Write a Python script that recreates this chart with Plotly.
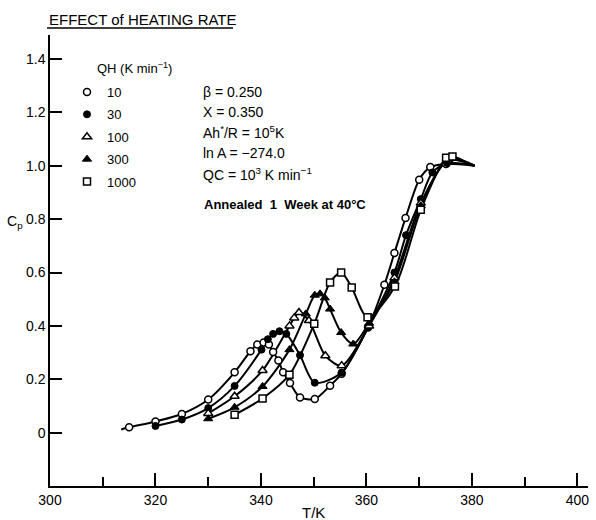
import plotly.graph_objects as go

# ---------------- data ----------------
T_10 = [315, 320, 325, 330, 335, 338, 339.3, 340.5, 341.5, 342.3, 343.3, 344.2, 345.5, 347.4,
        350.2, 353.1, 355.3, 360.3, 363.4, 365.3, 367.4, 370.0, 372.1, 375.1]
Cp_10 = [0.02, 0.042, 0.07, 0.124, 0.226, 0.305, 0.33, 0.338, 0.33, 0.302, 0.27, 0.226, 0.186, 0.132,
         0.126, 0.176, 0.221, 0.394, 0.554, 0.673, 0.804, 0.948, 0.995, 1.007]

T_30 = [320, 325, 330, 335, 340.1, 341.3, 342.3, 343.5, 344.8, 347.4, 350.2, 355.3, 360.3,
        365.3, 367.5, 370.3, 372.5, 375.3]
Cp_30 = [0.025, 0.049, 0.092, 0.175, 0.311, 0.35, 0.37, 0.38, 0.37, 0.29, 0.187, 0.225, 0.396,
         0.60, 0.74, 0.875, 0.975, 1.01]

T_100 = [330, 335, 340.3, 345.4, 346.3, 347.2, 349.1, 352.2, 355.3, 360.5, 365.3, 370.3, 375.5]
Cp_100 = [0.072, 0.136, 0.233, 0.40, 0.43, 0.45, 0.42, 0.288, 0.251, 0.40, 0.58, 0.86, 1.02]

T_300 = [330, 335, 340.3, 345.4, 348.5, 350.2, 351.2, 352.1, 353.1, 355.2, 357.5, 360.5,
         365.3, 370.3, 375.5]
Cp_300 = [0.052, 0.095, 0.173, 0.311, 0.445, 0.515, 0.52, 0.505, 0.463, 0.375, 0.332, 0.41,
          0.565, 0.85, 1.025]

T_1000 = [335, 340.3, 345.4, 350.1, 353.1, 355.2, 357.2, 360.2, 365.4, 370.3, 375.1, 376.3]
Cp_1000 = [0.067, 0.128, 0.217, 0.408, 0.563, 0.60, 0.544, 0.432, 0.548, 0.835, 1.03, 1.035]

# where the drawn curves begin / end beyond the plotted points
curve_start_10 = (313.5, 0.012)
curve_end = (380.5, 1.0)

qh_labels = ["10", "30", "100", "300", "1000"]
x_ticks = [300, 320, 340, 360, 380, 400]
x_minor = [310, 330, 350, 370, 390]
y_ticks = [0, 0.2, 0.4, 0.6, 0.8, 1.0, 1.2, 1.4]
y_ticktext = ["0", "0.2", "0.4", "0.6", "0.8", "1.0", "1.2", "1.4"]

params = ["β = 0.250", "X = 0.350", "Ah<sup>*</sup>/R = 10<sup>5</sup>K",
          "ln A = −274.0", "QC = 10<sup>3</sup> K min<sup>−1</sup>"]
anneal_text = "Annealed  1  Week at 40°C"

# ---------------- layout helpers ----------------
W, H = 596, 520
ML, MR, MT, MB = 50, 8, 35, 34
PW, PH = W - ML - MR, H - MT - MB


def pxx(x):
    return (x - ML) / PW


def pxy(y):
    return (H - MB - y) / PH


FONT = "Liberation Sans, Arial, sans-serif"

series = [
    (T_10, Cp_10, dict(symbol="circle", color="white", size=7, line=dict(color="black", width=1.5))),
    (T_30, Cp_30, dict(symbol="circle", color="black", size=7, line=dict(color="black", width=1))),
    (T_100, Cp_100, dict(symbol="triangle-up", color="white", size=8, line=dict(color="black", width=1.5))),
    (T_300, Cp_300, dict(symbol="triangle-up", color="black", size=8, line=dict(color="black", width=1))),
    (T_1000, Cp_1000, dict(symbol="square", color="white", size=7, line=dict(color="black", width=1.5))),
]

fig = go.Figure()
for i, (T, Cp, mk) in enumerate(series):
    xs = list(T) + [curve_end[0]]
    ys = list(Cp) + [curve_end[1]]
    if i == 0:
        xs = [curve_start_10[0]] + xs
        ys = [curve_start_10[1]] + ys
    fig.add_trace(go.Scatter(x=xs, y=ys, mode="lines",
                             line=dict(color="black", width=2, shape="spline", smoothing=0.8),
                             showlegend=False, hoverinfo="skip"))
for i, (T, Cp, mk) in enumerate(series):
    fig.add_trace(go.Scatter(x=T, y=Cp, mode="markers", marker=mk, name=qh_labels[i],
                             legendgroup=qh_labels[i], showlegend=True))

annotations = []
annotations.append(dict(text="QH (K min<sup>−1</sup>)", x=pxx(95), y=pxy(68), xref="paper", yref="paper",
                        xanchor="left", yanchor="middle", showarrow=False, font=dict(size=13, family=FONT)))
rows = [92, 112, 132, 153, 174]
for t, r in zip(params, rows):
    annotations.append(dict(text=t, x=pxx(201), y=pxy(r), xref="paper", yref="paper",
                            xanchor="left", yanchor="middle", showarrow=False,
                            font=dict(size=14, family=FONT)))
annotations.append(dict(text=anneal_text, x=pxx(202), y=pxy(204), xref="paper", yref="paper",
                        xanchor="left", yanchor="middle", showarrow=False,
                        font=dict(size=13, family=FONT, weight="bold")))
annotations.append(dict(text="EFFECT of HEATING RATE", x=pxx(47), y=pxy(19), xref="paper", yref="paper",
                        xanchor="left", yanchor="middle", showarrow=False,
                        font=dict(size=15, family=FONT)))
annotations.append(dict(text="C<sub>p</sub>", x=pxx(5), y=pxy(222), xref="paper", yref="paper",
                        xanchor="left", yanchor="middle", showarrow=False, font=dict(size=14, family=FONT)))
annotations.append(dict(text="T/K", x=pxx(313), y=pxy(512), xref="paper", yref="paper",
                        xanchor="center", yanchor="middle", showarrow=False, font=dict(size=15, family=FONT)))

fig.update_layout(
    width=W, height=H,
    margin=dict(l=ML, r=MR, t=MT, b=MB, pad=0),
    paper_bgcolor="white", plot_bgcolor="white",
    font=dict(family=FONT, color="black", size=14),
    showlegend=True,
    legend=dict(x=pxx(67), y=pxy(77), xanchor="left", yanchor="top",
                bgcolor="rgba(0,0,0,0)", font=dict(size=13, family=FONT),
                itemwidth=30, tracegroupgap=2.5, traceorder="grouped"),
    annotations=annotations,
    shapes=[dict(type="line", xref="paper", yref="paper", x0=pxx(47), x1=pxx(233),
                 y0=pxy(28), y1=pxy(28), line=dict(color="black", width=1.5))],
    xaxis=dict(range=[300, 402], showgrid=False, zeroline=False, showline=True, linecolor="black",
               linewidth=1.5, ticks="inside", ticklen=13, tickwidth=1.5, tickcolor="black",
               tickvals=x_ticks, ticktext=[str(v) for v in x_ticks], tickfont=dict(size=14),
               minor=dict(tickvals=x_minor, ticks="inside", ticklen=9, tickwidth=1.5, tickcolor="black"),
               mirror=False),
    yaxis=dict(range=[-0.2, 1.49], showgrid=False, zeroline=False, showline=True, linecolor="black",
               linewidth=1.5, ticks="inside", ticklen=12, tickwidth=1.5, tickcolor="black",
               tickvals=y_ticks, ticktext=y_ticktext, tickfont=dict(size=14), mirror=False),
)

fig.write_html("out.html")
